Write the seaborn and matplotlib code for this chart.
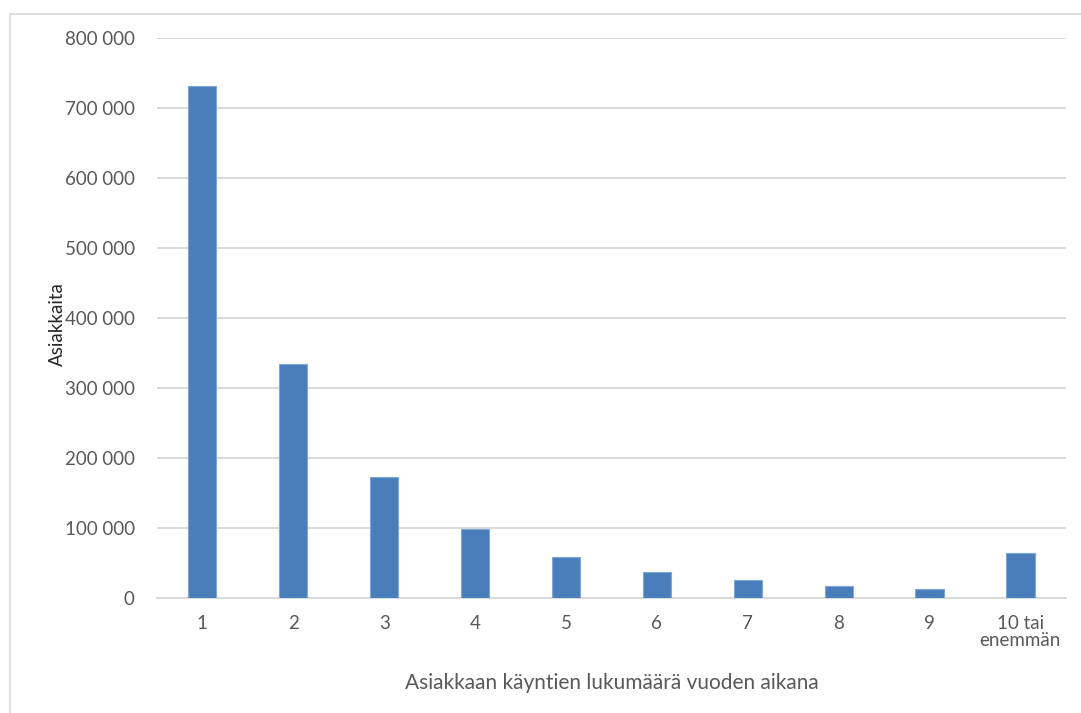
import matplotlib
matplotlib.use("Agg")
import matplotlib.pyplot as plt
import seaborn as sns
import pandas as pd
from matplotlib.patches import Rectangle
from matplotlib.ticker import FuncFormatter

# data
kaynnit = ["1", "2", "3", "4", "5", "6", "7", "8", "9", "10 tai\nenemmän"]
asiakkaita = [731500, 334000, 173000, 98000, 59000, 37500, 25300, 17500, 12400, 63800]
y_ticks = [0, 100000, 200000, 300000, 400000, 500000, 600000, 700000, 800000]

df = pd.DataFrame({"Käynnit": kaynnit, "Asiakkaita": asiakkaita})

sns.set_style("white")
plt.rcParams["font.family"] = ["Lato", "DejaVu Sans"]
grey = "#595959"

fig = plt.figure(figsize=(10.81, 7.13), dpi=100)
ax = fig.add_axes([0.1452, 0.1613, 0.8408, 0.7854])

sns.barplot(data=df, x="Käynnit", y="Asiakkaita", color="#4a7ebb", saturation=1,
            width=0.31, edgecolor="#7ea6d6", linewidth=0.8, ax=ax, zorder=3)

ax.set_ylim(0, 800000)
ax.set_xlim(-0.5, len(kaynnit) - 0.5)
ax.set_yticks(y_ticks)
ax.yaxis.set_major_formatter(FuncFormatter(lambda v, p: f"{int(v):,}".replace(",", " ")))
ax.grid(axis="y", color="#d9d9d9", linewidth=1.4, zorder=0)
ax.set_axisbelow(True)
for s in ["top", "right", "left"]:
    ax.spines[s].set_visible(False)
ax.spines["bottom"].set_color("#d9d9d9")
ax.spines["bottom"].set_linewidth(1.4)
ax.tick_params(axis="both", length=0, colors=grey, labelsize=13.5)
ax.tick_params(axis="y", pad=16)
ax.tick_params(axis="x", pad=12)
for lbl in ax.get_xticklabels():
    lbl.set_linespacing(1.05)

ax.set_ylabel("Asiakkaita", fontsize=13.5, color="#262626")
ax.yaxis.set_label_coords(-0.1, 0.49)
ax.set_xlabel("Asiakkaan käyntien lukumäärä vuoden aikana", fontsize=15, color=grey, labelpad=17)

# chart area border (only top and left edges fall inside the picture)
fig.patches.append(Rectangle((10 / 1081, -10 / 713), 1100 / 1081, 709 / 713,
                             transform=fig.transFigure, fill=False,
                             edgecolor="#d9d9d9", linewidth=1.2))

fig.savefig("out.png", dpi=100)
